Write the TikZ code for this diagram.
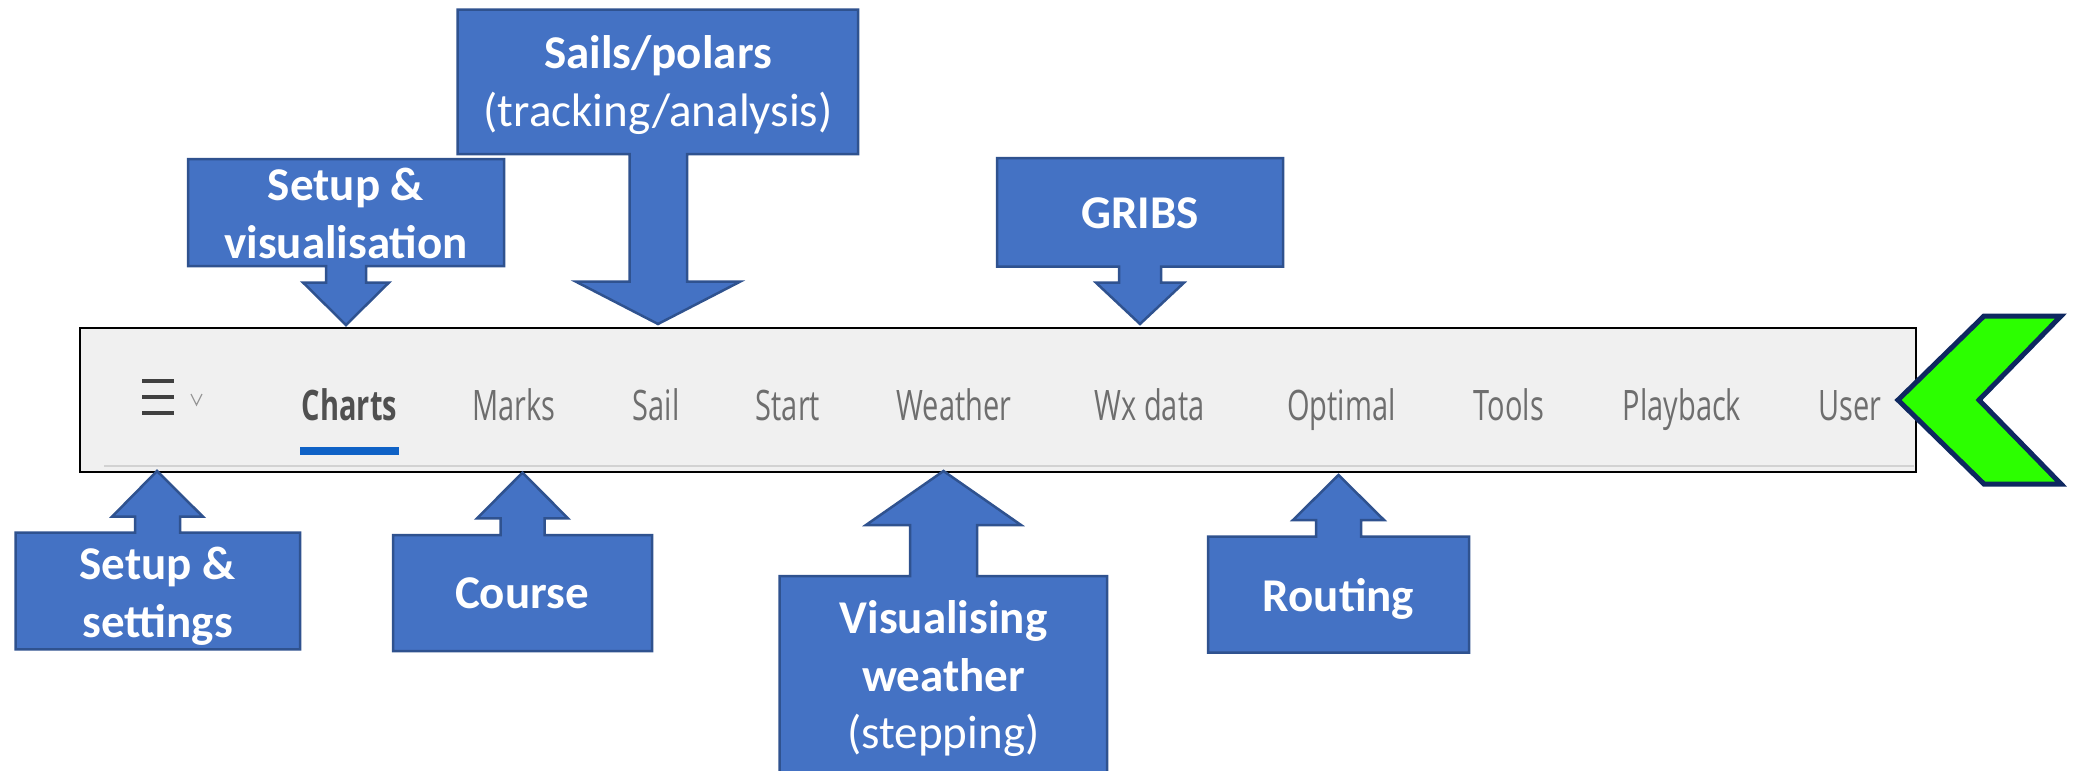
\documentclass[tikz,border=0pt]{standalone}
\usepackage{fontspec}
\setmainfont{Carlito}
\newfontfamily\uifont[FakeStretch=0.69]{Open Sans}

\definecolor{calloutfill}{HTML}{4472C4}
\definecolor{calloutedge}{HTML}{2F528F}
\definecolor{barfill}{HTML}{F0F0F0}
\definecolor{tabtext}{HTML}{6E6E6E}
\definecolor{tabactive}{HTML}{505050}
\definecolor{tabline}{HTML}{0F62C6}
\definecolor{chevfill}{HTML}{2CFF00}
\definecolor{chevedge}{HTML}{0E2860}

\tikzset{
  callout/.style={fill=calloutfill, draw=calloutedge, line width=2.5pt, line join=miter},
  calltext/.style={text=white, font=\fontsize{47}{57.5}\selectfont\bfseries, align=center, inner sep=0pt},
  tab/.style={text=tabtext, font=\uifont\fontsize{42}{42}\selectfont, inner sep=0pt, anchor=base},
  tabbold/.style={tab, text=tabactive, font=\uifont\fontsize{42}{42}\selectfont\bfseries},
  menuline/.style={line width=3.5pt, draw=black!75},
}

\begin{document}
\begin{tikzpicture}[x=1pt, y=-1pt]
\useasboundingbox (0,0) rectangle (2078,771);
\clip (0,0) rectangle (2078,771);

% menu bar
\draw[fill=barfill, draw=black, line width=2.5pt] (80,328) rectangle (1916,472);
\draw[gray!35, line width=2pt] (104,466) -- (1914,466);

% hamburger icon and drop-down mark
\foreach \y in {381,397,413} \draw[menuline] (142,\y) -- (174,\y);
\draw[line width=1.2pt, draw=black!40] (191,394) -- (196.5,405) -- (202,394);

% menu entries
\node[tabbold] (tCharts)   at (349.5,420) {Charts};
\fill[tabline] (300,447) rectangle (399,455);
\node[tab] (tMarks)    at (514,420)  {Marks};
\node[tab] (tSail)     at (656,420)  {Sail};
\node[tab] (tStart)    at (788,420)  {Start};
\node[tab] (tWeather)  at (954,420)  {Weather};
\node[tab] (tWx)       at (1149.5,420) {Wx data};
\node[tab] (tOptimal)  at (1341.5,420) {Optimal};
\node[tab] (tTools)    at (1509,420) {Tools};
\node[tab] (tPlayback) at (1682,420) {Playback};
\node[tab] (tUser)     at (1850,420) {User};

% green chevron
\draw[fill=chevfill, draw=chevedge, line width=5pt, line join=miter]
  (1898,400) -- (1984,316) -- (2061,316) -- (1979,400) -- (2061,484) -- (1984,484) -- cycle;

% callouts pointing down
\draw[callout] (188,159) -- (504,159) -- (504,266) -- (366,266) -- (366,282.5) -- (389,282.5)
  -- (346,325) -- (303,282.5) -- (326,282.5) -- (326,266) -- (188,266) -- cycle;
\node[calltext] (setupVis) at (346,213.5) {Setup \&\\visualisation};

\draw[callout] (457.5,9.5) -- (858,9.5) -- (858,154) -- (687,154) -- (687,281.7) -- (740,281.7)
  -- (658,324) -- (576,281.7) -- (629.5,281.7) -- (629.5,154) -- (457.5,154) -- cycle;
\node[calltext] (sails) at (658,85) {Sails/polars\\\mdseries(tracking/analysis)};

\draw[callout] (997,158) -- (1283,158) -- (1283,266.7) -- (1161,266.7) -- (1161,282.7) -- (1184,282.7)
  -- (1140,324) -- (1096,282.7) -- (1119,282.7) -- (1119,266.7) -- (997,266.7) -- cycle;
\node[calltext, anchor=base] (gribs) at (1140,228) {GRIBS};

% callouts pointing up
\draw[callout] (157,471) -- (203,516.7) -- (180,516.7) -- (180,532.7) -- (300,532.7) -- (300,649.3)
  -- (15.5,649.3) -- (15.5,532.7) -- (135,532.7) -- (135,516.7) -- (112,516.7) -- cycle;
\node[calltext] (setupSet) at (157.5,596) {Setup \&\\settings};

\draw[callout] (522.5,472.7) -- (568,518.3) -- (544.5,518.3) -- (544.5,535) -- (652,535) -- (652,651)
  -- (393,651) -- (393,535) -- (500.5,535) -- (500.5,518.3) -- (477,518.3) -- cycle;
\node[calltext, anchor=base] (course) at (522,608) {Course};

\draw[callout] (943.5,471) -- (1021,525) -- (977,525) -- (977,576) -- (1107,576) -- (1107,790)
  -- (779.5,790) -- (779.5,576) -- (910,576) -- (910,525) -- (866,525) -- cycle;
\node[calltext] (visWeather) at (943.5,679) {Visualising\\weather\\\mdseries(stepping)};

\draw[callout] (1338.5,475) -- (1384,520) -- (1361,520) -- (1361,536.7) -- (1469,536.7) -- (1469,652.7)
  -- (1208,652.7) -- (1208,536.7) -- (1316,536.7) -- (1316,520) -- (1293,520) -- cycle;
\node[calltext, anchor=base] (routing) at (1338.5,611.7) {Routing};
\end{tikzpicture}
\end{document}
